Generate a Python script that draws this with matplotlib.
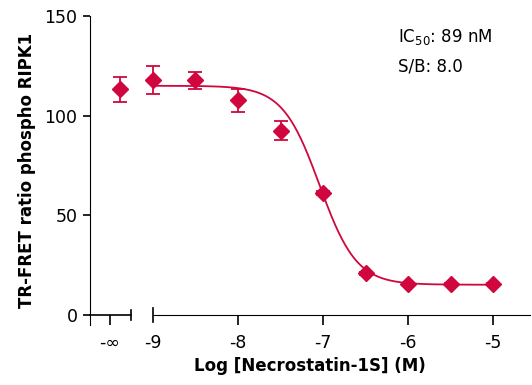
import numpy as np
import matplotlib.pyplot as plt

# dose-response data
log_conc = [-9.0, -8.5, -8.0, -7.5, -7.0, -6.5, -6.0, -5.5, -5.0]
signal = [117.7, 117.7, 107.7, 92.5, 61.4, 20.9, 15.5, 15.5, 15.5]
err = [7.0, 4.3, 5.8, 4.8, 1.0, 0.8, 0.5, 0.5, 0.5]

# no-inhibitor control plotted at "-inf"
ctrl_x = -9.39
ctrl_y = 113.3
ctrl_err = 6.3

# 4-parameter logistic fit
top, bottom, log_ic50, hill = 115.0, 15.2, -7.04, 2.0

xticks = [-9.506, -9, -8, -7, -6, -5]
xticklabels = ['-∞', '-9', '-8', '-7', '-6', '-5']
yticks = [0, 50, 100, 150]

color = '#d0073f'

plt.rcParams['font.family'] = 'DejaVu Sans'
fig = plt.figure(figsize=(5.32, 3.85), dpi=100)
ax = fig.add_axes([90/532, 60/385, 440/532, 309/385])

xf = np.linspace(-9, -5, 300)
yf = bottom + (top - bottom) / (1 + 10 ** ((xf - log_ic50) * hill))
ax.plot(xf, yf, color=color, lw=1.3, zorder=2)

ax.errorbar(log_conc, signal, yerr=err, fmt='D', color=color, ms=8.5,
            ecolor=color, elinewidth=1.3, capsize=5, capthick=1.3, zorder=3)
ax.errorbar([ctrl_x], [ctrl_y], yerr=[ctrl_err], fmt='D', color=color, ms=8.5,
            ecolor=color, elinewidth=1.3, capsize=5, capthick=1.3, zorder=3)

ax.set_xlim(-9.741, -4.565)
ax.set_ylim(-5, 150)

for s in ['top', 'right']:
    ax.spines[s].set_visible(False)
ax.spines['bottom'].set_position(('data', 0))
ax.spines['bottom'].set_bounds(-9, -4.565)
ax.spines['left'].set_bounds(-5, 150)

# broken x axis: short segment for the control
ax.plot([-9.741, -9.259], [0, 0], color='black', lw=1.2, clip_on=False)
ax.plot([-9.259, -9.259], [-2.7, 2.7], color='black', lw=1.2, clip_on=False)
ax.plot([-9.0, -9.0], [-3.5, 3.5], color='black', lw=1.2, clip_on=False)

ax.set_xticks(xticks)
ax.set_xticklabels(xticklabels)
ax.set_yticks(yticks)
ax.tick_params(axis='x', length=7.5, width=1.2, pad=6, labelsize=12.5)
ax.tick_params(axis='y', length=5, width=1.2, pad=4, labelsize=12.5)
ax.xaxis.get_major_ticks()[1].tick1line.set_visible(False)

ax.set_xlabel('Log [Necrostatin-1S] (M)', fontsize=12, fontweight='bold', labelpad=4)
ax.set_ylabel('TR-FRET ratio phospho RIPK1', fontsize=12, fontweight='bold', labelpad=6)

ax.text(0.70, 0.915, 'IC$_{50}$: 89 nM', transform=ax.transAxes, fontsize=12)
ax.text(0.70, 0.82, 'S/B: 8.0', transform=ax.transAxes, fontsize=12)

fig.savefig('out.png', dpi=100)
